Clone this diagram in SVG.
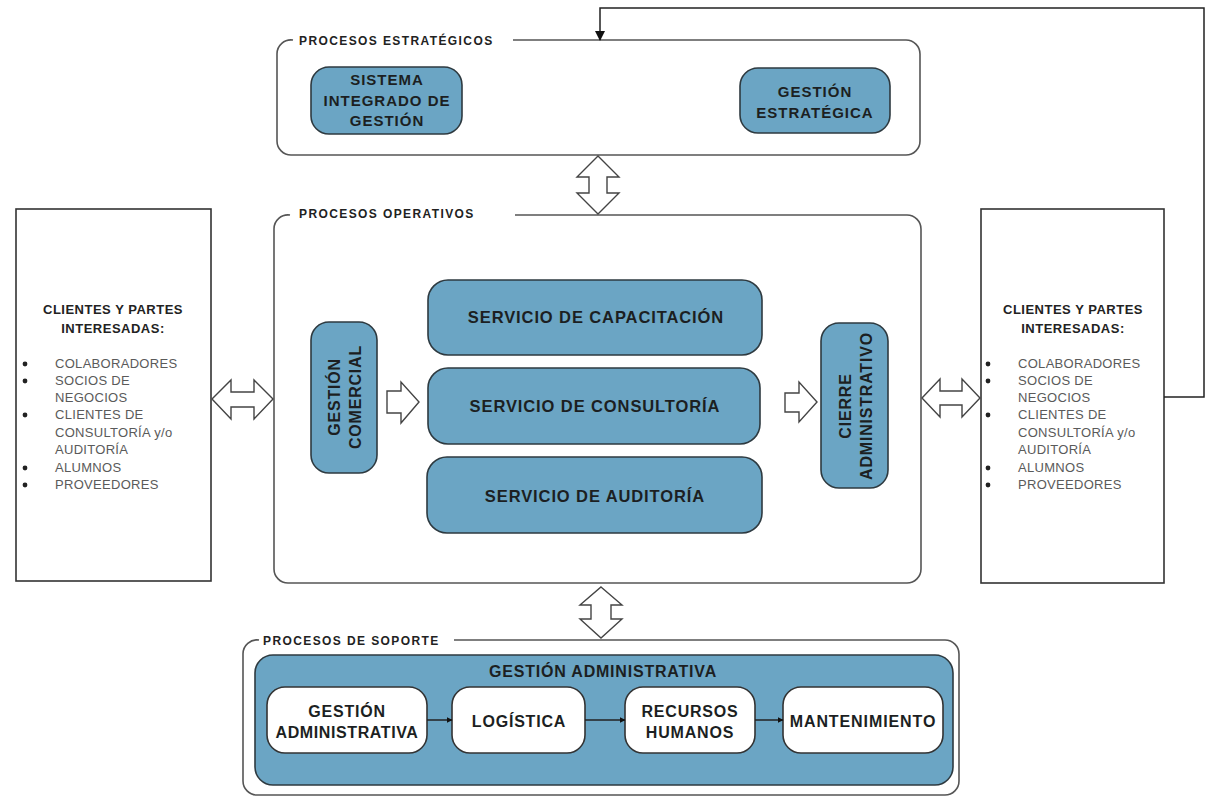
<svg xmlns="http://www.w3.org/2000/svg" width="1206" height="797" viewBox="0 0 1206 797">
<defs>
<marker id="ah" viewBox="0 0 10 10" refX="9" refY="5" markerWidth="6" markerHeight="6" orient="auto" markerUnits="userSpaceOnUse"><path d="M0,0 L10,5 L0,10 Z" fill="#111"/></marker>
<marker id="ahBig" viewBox="0 0 10 10" refX="9" refY="5" markerWidth="10" markerHeight="10" orient="auto" markerUnits="userSpaceOnUse"><path d="M0,0 L10,5 L0,10 Z" fill="#111"/></marker>
<style>
.frame{fill:none;stroke:#555;stroke-width:1.6}
.blue{fill:#6ba5c4;stroke:#2e3a40;stroke-width:1.6}
.white{fill:#fff;stroke:#333;stroke-width:1.6}
.client{fill:#fff;stroke:#333;stroke-width:1.6}
.hollow{fill:#fff;stroke:#444;stroke-width:1.4;stroke-linejoin:miter}
.lbl{font-family:"Liberation Sans",Arial,sans-serif;font-weight:bold;font-size:12px;letter-spacing:1.4px;fill:#222}
.t{font-family:"Liberation Sans",Arial,sans-serif;font-weight:bold;fill:#1c1f22;text-anchor:middle}
.t15{font-size:15px;letter-spacing:1px}
.t16{font-size:16px;letter-spacing:0.8px}
.svc{font-size:16.5px;letter-spacing:0.9px}
.ch{font-family:"Liberation Sans",Arial,sans-serif;font-weight:bold;font-size:13px;letter-spacing:0.5px;fill:#222;text-anchor:middle}
.li{font-family:"Liberation Sans",Arial,sans-serif;font-size:13px;letter-spacing:0.3px;fill:#5a5a5a}
.bul{fill:#222}
.line{fill:none;stroke:#222;stroke-width:1.5}
</style>
</defs>

<g id="procesos-estrategicos">
<path class="frame" d="M293 40 A14 14 0 0 0 277 54 V141 A14 14 0 0 0 291 155 H906 A14 14 0 0 0 920 141 V54 A14 14 0 0 0 906 40 H513"/>
<text class="lbl" x="299" y="45">PROCESOS ESTRATÉGICOS</text>
</g>
<g id="sistema-integrado">
<rect class="blue" x="311" y="67" width="151" height="67" rx="18"/>
<text class="t t15" x="387" y="85">SISTEMA</text>
<text class="t t15" x="387" y="106">INTEGRADO DE</text>
<text class="t t15" x="387" y="126">GESTIÓN</text>
</g>
<g id="gestion-estrategica">
<rect class="blue" x="740" y="68" width="150" height="65" rx="18"/>
<text class="t t15" x="815" y="97">GESTIÓN</text>
<text class="t t15" x="815" y="118">ESTRATÉGICA</text>
</g>

<g id="procesos-operativos">
<path class="frame" d="M290 215 A14 14 0 0 0 274 229 V569 A14 14 0 0 0 288 583 H907 A14 14 0 0 0 921 569 V229 A14 14 0 0 0 907 215 H515"/>
<text class="lbl" x="299" y="218">PROCESOS OPERATIVOS</text>
</g>
<g id="gestion-comercial">
<rect class="blue" x="311" y="322" width="66" height="151" rx="18"/>
<g transform="translate(344 397) rotate(-90)">
<text class="t t16" x="0" y="-4">GESTIÓN</text>
<text class="t t16" x="0" y="17">COMERCIAL</text>
</g>
</g>
<g id="servicio-capacitacion">
<rect class="blue" x="428" y="280" width="334" height="75" rx="20"/>
<text class="t svc" x="596" y="323">SERVICIO DE CAPACITACIÓN</text>
</g>
<g id="servicio-consultoria">
<rect class="blue" x="428" y="368" width="332" height="76" rx="20"/>
<text class="t svc" x="595" y="412">SERVICIO DE CONSULTORÍA</text>
</g>
<g id="servicio-auditoria">
<rect class="blue" x="427" y="457" width="335" height="76" rx="20"/>
<text class="t svc" x="595" y="502">SERVICIO DE AUDITORÍA</text>
</g>
<g id="cierre-administrativo">
<rect class="blue" x="821" y="323" width="67" height="165" rx="18"/>
<g transform="translate(854 406) rotate(-90)">
<text class="t t16" x="0" y="-3">CIERRE</text>
<text class="t t16" x="0" y="18">ADMINISTRATIVO</text>
</g>
</g>

<g id="clientes-izquierda">
<rect class="client" x="16" y="209" width="195" height="372"/>
<text class="ch" x="113" y="314">CLIENTES Y PARTES</text>
<text class="ch" x="113" y="333">INTERESADAS:</text>
<circle class="bul" cx="25" cy="364" r="2.4"/>
<circle class="bul" cx="25" cy="381" r="2.4"/>
<circle class="bul" cx="25" cy="415" r="2.4"/>
<circle class="bul" cx="25" cy="468" r="2.4"/>
<circle class="bul" cx="25" cy="485" r="2.4"/>
<text class="li" x="55" y="368">COLABORADORES</text>
<text class="li" x="55" y="385">SOCIOS DE</text>
<text class="li" x="55" y="402">NEGOCIOS</text>
<text class="li" x="55" y="419">CLIENTES DE</text>
<text class="li" x="55" y="437">CONSULTORÍA y/o</text>
<text class="li" x="55" y="454">AUDITORÍA</text>
<text class="li" x="55" y="472">ALUMNOS</text>
<text class="li" x="55" y="489">PROVEEDORES</text>
</g>
<g id="clientes-derecha">
<rect class="client" x="981" y="209" width="183" height="374"/>
<text class="ch" x="1073" y="314">CLIENTES Y PARTES</text>
<text class="ch" x="1073" y="333">INTERESADAS:</text>
<circle class="bul" cx="988" cy="364" r="2.4"/>
<circle class="bul" cx="988" cy="381" r="2.4"/>
<circle class="bul" cx="988" cy="415" r="2.4"/>
<circle class="bul" cx="988" cy="468" r="2.4"/>
<circle class="bul" cx="988" cy="485" r="2.4"/>
<text class="li" x="1018" y="368">COLABORADORES</text>
<text class="li" x="1018" y="385">SOCIOS DE</text>
<text class="li" x="1018" y="402">NEGOCIOS</text>
<text class="li" x="1018" y="419">CLIENTES DE</text>
<text class="li" x="1018" y="437">CONSULTORÍA y/o</text>
<text class="li" x="1018" y="454">AUDITORÍA</text>
<text class="li" x="1018" y="472">ALUMNOS</text>
<text class="li" x="1018" y="489">PROVEEDORES</text>
</g>

<g id="procesos-soporte">
<path class="frame" d="M259 640 A14 14 0 0 0 243 654 V781 A14 14 0 0 0 257 795 H945 A14 14 0 0 0 959 781 V654 A14 14 0 0 0 945 640 H454"/>
<text class="lbl" x="263" y="645">PROCESOS DE SOPORTE</text>
</g>
<g id="panel-gestion-administrativa">
<rect class="blue" x="255" y="655" width="698" height="130" rx="18"/>
<text class="t t16" x="603" y="677">GESTIÓN ADMINISTRATIVA</text>
</g>
<g id="gestion-administrativa">
<rect class="white" x="267" y="687" width="160" height="66" rx="18"/>
<text class="t t16" x="347" y="717">GESTIÓN</text>
<text class="t" style="font-size:16px;letter-spacing:0.6px" x="347" y="738">ADMINISTRATIVA</text>
</g>
<g id="logistica">
<rect class="white" x="452" y="687" width="133" height="66" rx="18"/>
<text class="t t16" x="519" y="727">LOGÍSTICA</text>
</g>
<g id="recursos-humanos">
<rect class="white" x="625" y="687" width="130" height="66" rx="18"/>
<text class="t t16" x="690" y="717">RECURSOS</text>
<text class="t t16" x="690" y="738">HUMANOS</text>
</g>
<g id="mantenimiento">
<rect class="white" x="783" y="687" width="160" height="66" rx="18"/>
<text class="t" style="font-size:16px;letter-spacing:0.9px" x="863" y="727">MANTENIMIENTO</text>
</g>

<g id="connectors">
<path class="line" d="M1164 397 H1204 V8 H600 V40" marker-end="url(#ahBig)"/>
<polygon class="hollow" points="598,156 619,177 607,177 607,193 619,193 598,214 577,193 589,193 589,177 577,177"/>
<polygon class="hollow" points="601,587 622,605 611,605 611,619 622,619 601,638 580,619 591,619 591,605 580,605"/>
<polygon class="hollow" points="212,399 231,380 231,392 254,392 254,380 273,399 254,419 254,407 231,407 231,419"/>
<polygon class="hollow" points="922,398 940,379 940,391 962,391 962,379 980,398 962,417 962,405 940,405 940,417"/>
<polygon class="hollow" points="387,391 401,391 401,382 419,402 401,423 401,413 387,413"/>
<polygon class="hollow" points="785,393 799,393 799,382 817,402 799,422 799,412 785,412"/>
<line class="line" x1="427" y1="720" x2="452" y2="720" marker-end="url(#ah)"/>
<line class="line" x1="585" y1="720" x2="625" y2="720" marker-end="url(#ah)"/>
<line class="line" x1="755" y1="720" x2="783" y2="720" marker-end="url(#ah)"/>
</g>
</svg>
